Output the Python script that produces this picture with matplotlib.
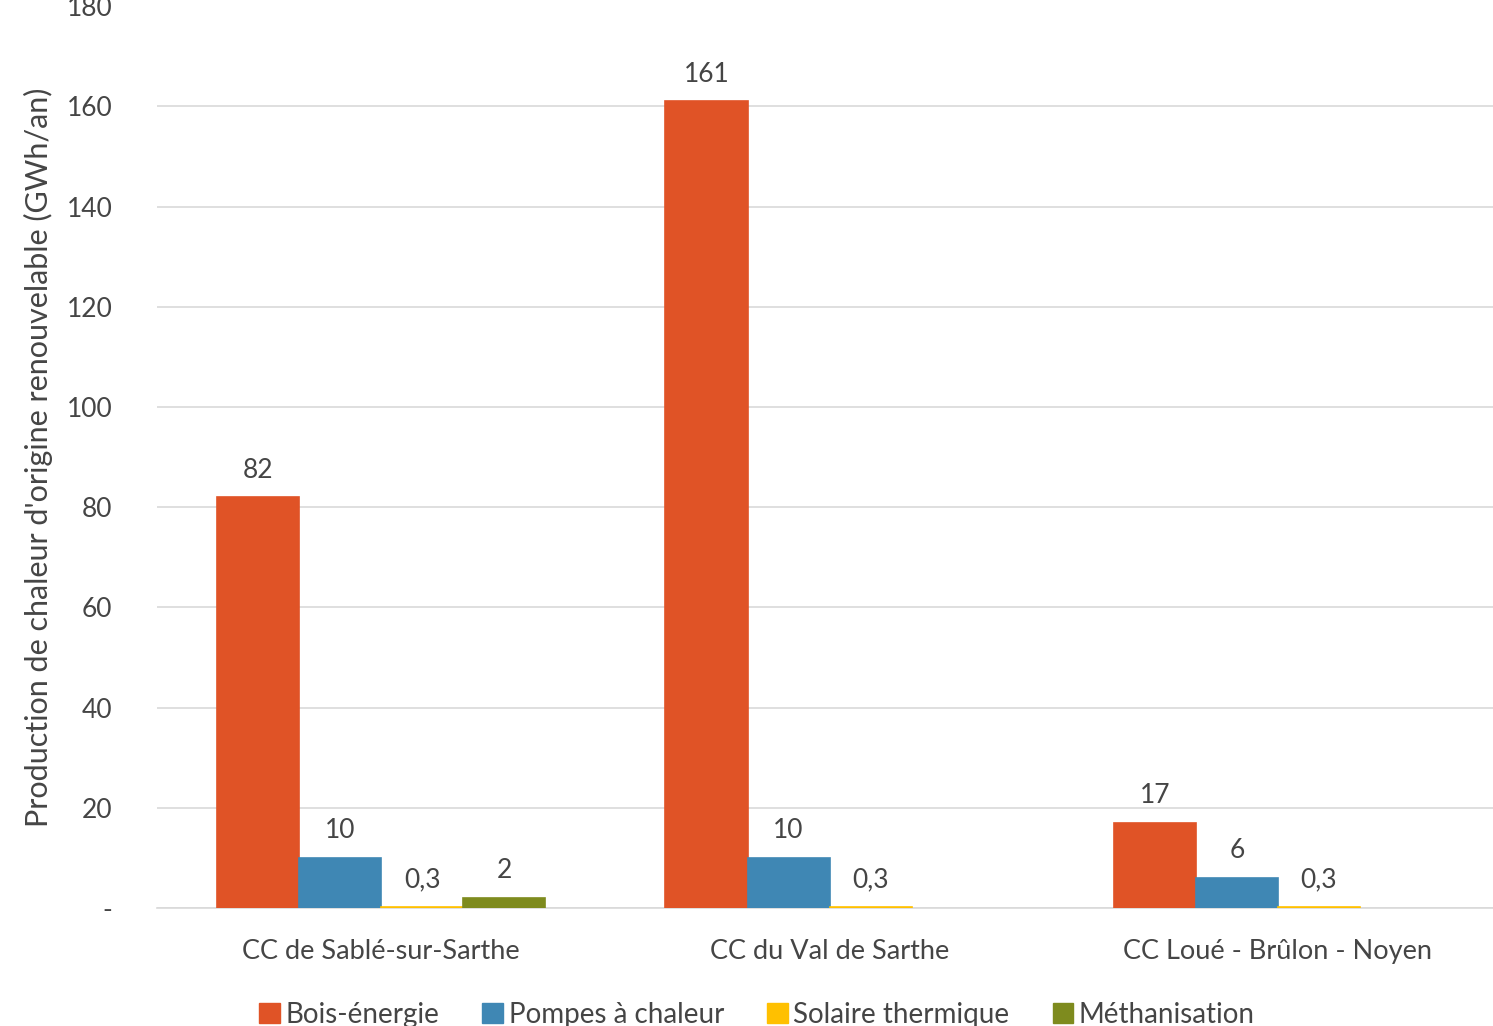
import numpy as np
import matplotlib
matplotlib.use('Agg')
import matplotlib.pyplot as plt
from matplotlib.patches import Patch

plt.rcParams['font.family'] = ['Lato', 'DejaVu Sans']

categories = ['CC de Sablé-sur-Sarthe', 'CC du Val de Sarthe', 'CC Loué - Brûlon - Noyen']
series = ['Bois-énergie', 'Pompes à chaleur', 'Solaire thermique', 'Méthanisation']
values = [
    [82, 161, 17],
    [10, 10, 6],
    [0.3, 0.3, 0.3],
    [2, None, None],
]
labels = [
    ['82', '161', '17'],
    ['10', '10', '6'],
    ['0,3', '0,3', '0,3'],
    ['2', '', ''],
]
colors = ['#E05326', '#3F87B4', '#FFC000', '#7E8B1E']

fig = plt.figure(figsize=(14.93, 10.26), dpi=100)
# axes run slightly past the right edge, as in the original crop
ax = fig.add_axes([0.1052, 0.115, 0.9009, 0.879])

x = np.arange(len(categories))
w = 0.183
txt = '#454545'
for i, (vals, labs, col) in enumerate(zip(values, labels, colors)):
    pos = x + (i - 1.5) * w
    for p, v, l in zip(pos, vals, labs):
        if v is None:
            continue
        ax.bar(p, v, width=w, color=col, edgecolor=col, linewidth=1.2, zorder=3)
        ax.text(p, v + 2.9, l, ha='center', va='bottom', fontsize=19, color=txt)

ax.set_xlim(-0.5, 2.5)
ax.set_ylim(0, 180)
ax.set_yticks(range(0, 181, 20))
ax.set_yticklabels(['-'] + [str(v) for v in range(20, 181, 20)])
ax.set_xticks(x)
ax.set_xticklabels(categories)
ax.tick_params(axis='y', length=0, pad=32, labelsize=19, labelcolor=txt)
ax.tick_params(axis='x', length=0, pad=22, labelsize=19.5, labelcolor=txt)
ax.grid(axis='y', color='#D9D9D9', linewidth=1.2, zorder=0)
ax.get_ygridlines()[-1].set_visible(False)
for s in ['top', 'right', 'left']:
    ax.spines[s].set_visible(False)
ax.spines['bottom'].set_color('#D9D9D9')
ax.spines['bottom'].set_linewidth(1.2)
ax.set_ylabel("Production de chaleur d'origine renouvelable (GWh/an)",
              fontsize=22, color=txt, labelpad=10)

handles = [Patch(facecolor=c, edgecolor=c, label=s) for s, c in zip(series, colors)]
fig.legend(handles=handles, loc='lower center', bbox_to_anchor=(0.507, -0.026), ncol=4,
           frameon=False, fontsize=20, handlelength=0.75, handleheight=0.75,
           handletextpad=0.2, columnspacing=1.55, labelcolor=txt)

fig.savefig('out.png', dpi=100)
